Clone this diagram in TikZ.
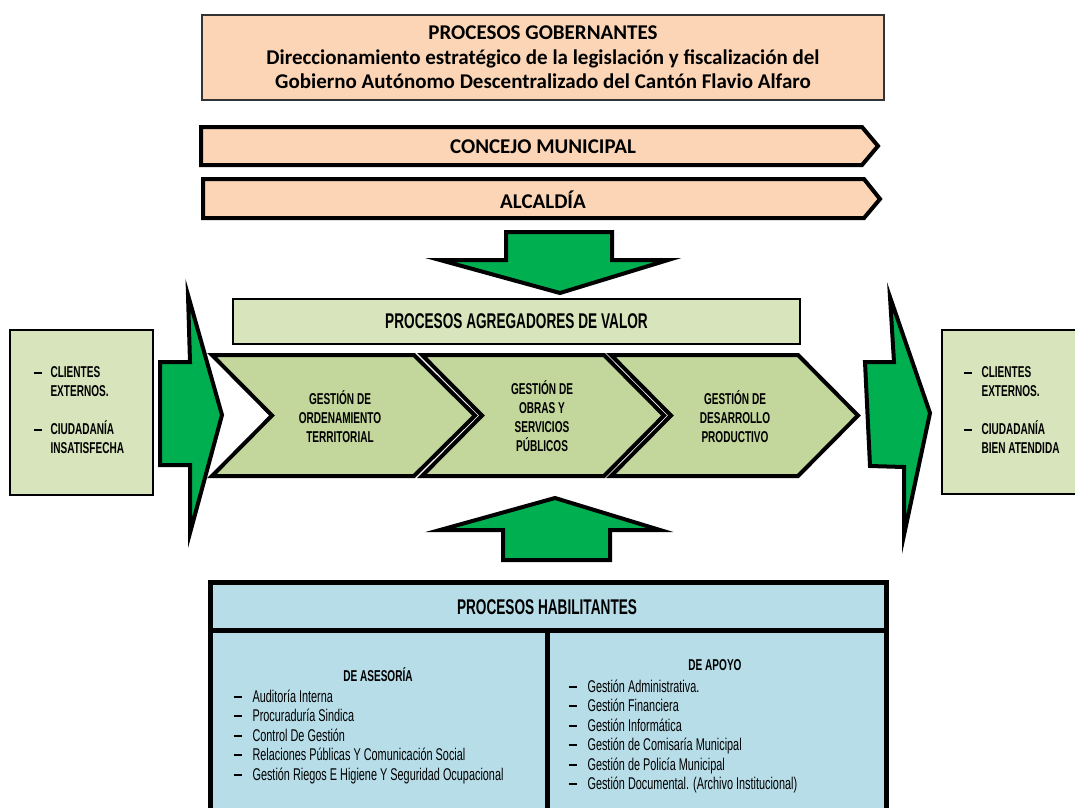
\documentclass[tikz,border=0pt]{standalone}
\usepackage{fontspec}
\setmainfont{Carlito}
\newfontfamily\agency[FakeStretch=0.64]{Liberation Sans}
\usetikzlibrary{positioning, calc}
\definecolor{govcolor}{RGB}{251,213,182}
\definecolor{valuecolor}{RGB}{216,228,188}
\definecolor{chevcolor}{RGB}{195,214,155}
\definecolor{arrowgreen}{RGB}{0,176,80}
\definecolor{enablecolor}{RGB}{183,221,232}
\tikzset{
    govbar/.style={draw=black, line width=4pt, line join=miter, fill=govcolor},
    chevron/.style={draw=black, line width=4pt, line join=miter, fill=chevcolor},
    bigarrow/.style={draw=black, line width=4pt, line join=miter, fill=arrowgreen},
    bartext/.style={font=\bfseries\fontsize{21}{24}\selectfont},
    chevtext/.style={align=center, font=\agency\bfseries\fontsize{15.7}{19}\selectfont},
    headtext/.style={font=\agency\bfseries\fontsize{21.3}{24}\selectfont},
    clienttext/.style={anchor=north west, align=left, font=\agency\bfseries\fontsize{15.7}{19}\selectfont},
    listtext/.style={anchor=north west, align=left, font=\agency\fontsize{17}{19.5}\selectfont}
}
\newcommand{\dashitem}[1]{\makebox[#1][l]{\rule[0.24em]{8pt}{2pt}}}

\begin{document}
\begin{tikzpicture}[x=1pt, y=-1pt]
    \useasboundingbox (0,0) rectangle (1075,807);

    % gobernantes
    \node[draw=black!80, line width=1.5pt, fill=govcolor, minimum width=682pt, minimum height=85pt,
        align=center, font=\bfseries\fontsize{21}{24.5}\selectfont] (gob) at (543,57.5)
        {PROCESOS GOBERNANTES\\Direccionamiento estratégico de la legislación y fiscalización del\\Gobierno Autónomo Descentralizado del Cantón Flavio Alfaro};

    \draw[govbar] (201,127) -- (862,127) -- (878,146) -- (862,165) -- (201,165) -- cycle;
    \node[bartext] (concejo) at (543,147) {CONCEJO MUNICIPAL};
    \draw[govbar] (203,179) -- (864,179) -- (880,199) -- (864,218) -- (203,218) -- cycle;
    \node[bartext] (alcaldia) at (543,200) {ALCALDÍA};

    \draw[bigarrow] (506,232) -- (612,232) -- (612,260) -- (668,260) -- (560,293) -- (440,260) -- (506,260) -- cycle;

    % agregadores de valor
    \node[draw=black, line width=2.5pt, fill=valuecolor, minimum width=567pt, minimum height=45pt,
        headtext] (valor) at (516.5,321.5) {PROCESOS AGREGADORES DE VALOR};

    \draw[chevron] (212,355) -- (414,355) -- (475,415.5) -- (414,476) -- (212,476) -- (272,415.5) -- cycle;
    \draw[chevron] (422,355) -- (604,355) -- (664,415.5) -- (604,476) -- (422,476) -- (482,415.5) -- cycle;
    \draw[chevron] (611,355) -- (798,355) -- (858,415.5) -- (798,476) -- (611,476) -- (671,415.5) -- cycle;
    \node[chevtext] (orden) at (340,417) {GESTIÓN DE\\ORDENAMIENTO\\TERRITORIAL};
    \node[chevtext] (obras) at (542,416) {GESTIÓN DE\\OBRAS Y\\SERVICIOS\\PÚBLICOS};
    \node[chevtext] (desarrollo) at (735,417) {GESTIÓN DE\\DESARROLLO\\PRODUCTIVO};

    % clientes
    \node[draw=black, line width=2pt, fill=valuecolor, minimum width=143pt, minimum height=165pt] (entrada) at (81.5,412.5) {};
    \node[clienttext] (entradatxt) at (30,363) {\dashitem{17pt}CLIENTES\\\hspace*{17pt}EXTERNOS.\\[19pt]\dashitem{17pt}CIUDADANÍA\\\hspace*{17pt}INSATISFECHA};
    \draw[bigarrow] (160,362) -- (190,362) -- (188,295) -- (222,415) -- (190,533) -- (190,465) -- (160,465) -- cycle;

    \node[draw=black, line width=2pt, fill=valuecolor, minimum width=143pt, minimum height=164pt] (salida) at (1013.5,412) {};
    \node[clienttext] (salidatxt) at (960,363) {\dashitem{18pt}CLIENTES\\\hspace*{18pt}EXTERNOS.\\[19pt]\dashitem{18pt}CIUDADANÍA\\\hspace*{18pt}BIEN ATENDIDA};
    \draw[bigarrow] (865,362) -- (894,362) -- (890,297) -- (930,413) -- (904,535) -- (904,467) -- (870,466) -- cycle;

    \draw[bigarrow] (555,498) -- (660,530) -- (610,530) -- (610,560) -- (503,560) -- (503,530) -- (440,530) -- cycle;

    % habilitantes
    \draw[line width=5pt, fill=enablecolor] (210,582) rectangle (886,830);
    \draw[line width=5pt] (210,630) -- (886,630);
    \draw[line width=5pt] (547,630) -- (547,830);
    \node[headtext] (habil) at (547,607) {PROCESOS HABILITANTES};

    \node[chevtext] (asesoria) at (378,675) {DE ASESORÍA};
    \node[listtext] (asesorialist) at (230,686) {\dashitem{19pt}Auditoría Interna\\
        \dashitem{19pt}Procuraduría Sindica\\
        \dashitem{19pt}Control De Gestión\\
        \dashitem{19pt}Relaciones Públicas Y Comunicación Social\\
        \dashitem{19pt}Gestión Riegos E Higiene Y Seguridad Ocupacional};

    \node[chevtext] (apoyo) at (715,665) {DE APOYO};
    \node[listtext] (apoyolist) at (565,676) {\dashitem{19pt}Gestión Administrativa.\\
        \dashitem{19pt}Gestión Financiera\\
        \dashitem{19pt}Gestión Informática\\
        \dashitem{19pt}Gestión de Comisaría Municipal\\
        \dashitem{19pt}Gestión de Policía Municipal\\
        \dashitem{19pt}Gestión Documental. (Archivo Institucional)};

\end{tikzpicture}
\end{document}
